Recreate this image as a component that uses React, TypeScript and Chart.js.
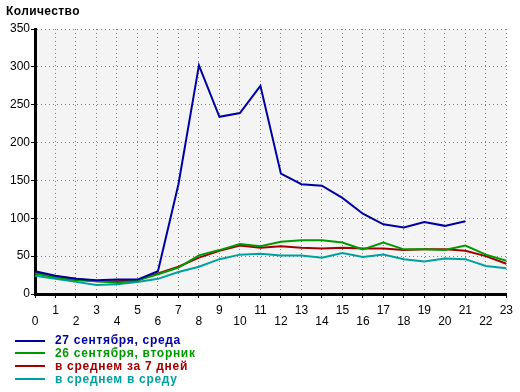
import React, { useEffect, useRef } from 'react';
import { Chart, registerables } from 'chart.js';

Chart.register(...registerables);

const hourLabels = ['0', '1', '2', '3', '4', '5', '6', '7', '8', '9', '10', '11', '12', '13', '14', '15', '16', '17', '18', '19', '20', '21', '22', '23'];

const wed27 = [30, 24, 20, 18, 19, 19, 30, 145, 302, 234, 239, 275, 159, 145, 143, 127, 106, 92, 88, 95, 90, 96];
const tue26 = [27, 22, 18, 17, 15, 18, 26, 35, 51, 58, 66, 63, 69, 71, 71, 68, 59, 68, 59, 59, 58, 64, 52, 44];
const avg7days = [29, 23, 20, 17, 17, 18, 27, 36, 48, 57, 64, 61, 63, 61, 60, 61, 60, 60, 58, 59, 59, 57, 50, 40];
const avgWednesday = [24, 20, 16, 12, 13, 16, 20, 29, 36, 46, 52, 53, 51, 51, 48, 54, 49, 52, 46, 43, 47, 46, 37, 34];

const seriesNames = ['27 сентября, среда', '26 сентября, вторник', 'в среднем за 7 дней', 'в среднем в среду'];
const seriesColors = ['#0000a0', '#009900', '#a00000', '#00a0a0'];
const seriesData = [wed27, tue26, avg7days, avgWednesday];

const yTitle = 'Количество';
const yMin = 0;
const yMax = 350;
const yStep = 50;

const FONT = '"Liberation Sans", Arial, sans-serif';

const plotBg = {
  id: 'plotBg',
  beforeDraw(chart: any) {
    const { ctx, chartArea } = chart;
    const { left, top, right, bottom } = chartArea;
    ctx.save();
    ctx.fillStyle = '#f4f4f4';
    ctx.fillRect(left, top, right - left, bottom - top);
    ctx.restore();
  },
};

export default function App() {
  const canvasRef = useRef<HTMLCanvasElement | null>(null);

  useEffect(() => {
    const canvas = canvasRef.current;
    if (!canvas) return;
    const chart = new Chart(canvas, {
      type: 'line',
      data: {
        labels: hourLabels,
        datasets: seriesNames.map((name, i) => ({
          label: name,
          data: seriesData[i],
          borderColor: seriesColors[i],
          backgroundColor: seriesColors[i],
          borderWidth: 2,
          pointRadius: 0,
          tension: 0,
          fill: false,
        })),
      },
      options: {
        responsive: false,
        animation: false,
        devicePixelRatio: 1,
        layout: { padding: { left: 0, top: 29, right: 13, bottom: 58 } },
        plugins: {
          legend: { display: false },
          title: { display: false },
          tooltip: { enabled: false },
        },
        scales: {
          x: {
            type: 'category',
            offset: false,
            grid: {
              color: '#808080',
              lineWidth: 1,
              drawTicks: true,
              tickLength: 4,
              tickColor: '#000',
              tickWidth: 1,
              tickBorderDash: [],
            },
            border: { display: true, color: '#000', width: 3, dash: [1, 3] },
            ticks: {
              autoSkip: false,
              maxRotation: 0,
              minRotation: 0,
              color: '#000',
              padding: 7,
              font: { family: FONT, size: 12, lineHeight: '11px' },
              callback: (_v: any, i: number) => (i % 2 ? [hourLabels[i], ''] : ['', hourLabels[i]]),
            },
            afterFit: (s: any) => {
              s.height = 40;
            },
          },
          y: {
            min: yMin,
            max: yMax,
            grid: {
              color: '#808080',
              lineWidth: 1,
              drawTicks: true,
              tickLength: 4,
              tickColor: '#000',
              tickWidth: 1,
              tickBorderDash: [],
            },
            border: { display: true, color: '#000', width: 3, dash: [1, 3] },
            ticks: {
              stepSize: yStep,
              color: '#000',
              padding: 1,
              font: { family: FONT, size: 12 },
            },
            afterFit: (s: any) => {
              s.width = 35;
            },
          },
        },
      },
      plugins: [plotBg],
    } as any);
    return () => chart.destroy();
  }, []);

  return (
    <div style={{ position: 'absolute', left: 0, top: 0, width: 520, height: 392, background: '#fff', fontFamily: FONT }}>
      <canvas ref={canvasRef} width={520} height={392} style={{ position: 'absolute', left: 0, top: 0, width: 520, height: 392 }} />
      <div style={{ position: 'absolute', left: 6, top: 4, fontSize: 12, fontWeight: 'bold', lineHeight: '14px', color: '#000', letterSpacing: '0.4px' }}>
        {yTitle}
      </div>
      {seriesNames.map((name, i) => (
        <div key={name} style={{ position: 'absolute', left: 0, top: 334 + i * 12.9, height: 13, width: 300 }}>
          <div style={{ position: 'absolute', left: 15, top: 5.5, width: 30, height: 2, background: seriesColors[i] }} />
          <div style={{ position: 'absolute', left: 55, top: 0, fontSize: 12, fontWeight: 'bold', lineHeight: '13px', color: seriesColors[i], whiteSpace: 'nowrap', letterSpacing: '0.7px' }}>
            {name}
          </div>
        </div>
      ))}
    </div>
  );
}
